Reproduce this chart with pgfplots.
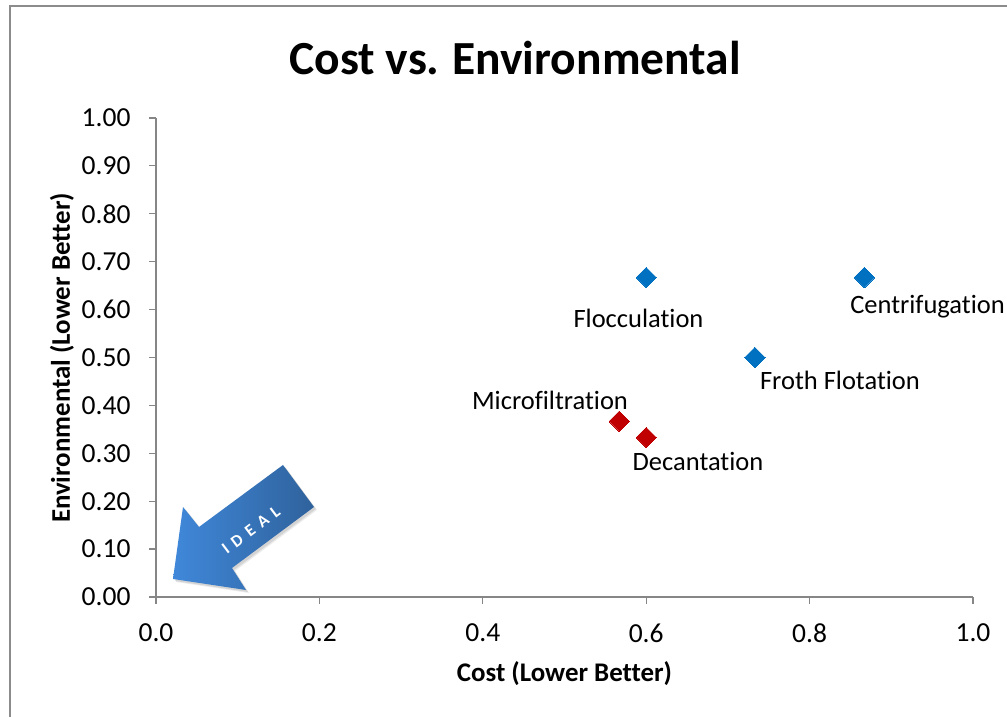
\documentclass[border=0pt]{standalone}
\usepackage{fontspec}
\setmainfont{Carlito}[RawFeature=-liga]
\newfontfamily\idealfont{Carlito}[LetterSpace=40,BoldFont=Carlito Bold,UprightFont=Carlito Bold]
\usepackage{pgfplots}
\pgfplotsset{compat=1.18}
\definecolor{axgray}{HTML}{868686}
\definecolor{frame}{HTML}{8C8C8C}
\definecolor{blueM}{HTML}{0070C0}
\definecolor{redM}{HTML}{C00000}
\definecolor{arrowL}{HTML}{4088DA}
\definecolor{arrowR}{HTML}{2F629C}
\newcommand{\ticksize}{\fontsize{26.5bp}{28bp}\selectfont}
\newcommand{\numsize}{\fontsize{27.5bp}{28bp}\selectfont}
\begin{document}
\begin{tikzpicture}
\path[use as bounding box] (0,0) rectangle (1007bp,717bp);
\draw[frame,line width=1.5bp] (10bp,0) -- (10bp,711bp) -- (1007bp,711bp);
\begin{axis}[
  at={(156bp,120bp)},anchor=south west,
  scale only axis,width=817bp,height=479bp,
  xmin=0,xmax=1,ymin=0,ymax=1,
  axis lines=left,axis line style={axgray,line width=1.4bp,-},
  xtick={0,0.2,0.4,0.6,0.8,1.0},
  ytick={0,0.1,0.2,0.3,0.4,0.5,0.6,0.7,0.8,0.9,1.0},
  tick style={axgray,line width=1.2bp},
  tick align=outside,
  major tick length=7bp,
  xticklabel style={font=\numsize,black,yshift=-16bp,/pgf/number format/.cd,assume math mode=true,fixed,fixed zerofill,precision=1},
  yticklabel style={font=\numsize,black,xshift=-15bp,/pgf/number format/.cd,assume math mode=true,fixed,fixed zerofill,precision=2},
  clip=false,
]
\addplot[only marks,mark=square*,mark size=7.2bp,mark options={rotate=45,fill=blueM,draw=blueM,line width=0pt}] coordinates {(0.867,0.667)(0.6,0.667)(0.733,0.5)};
\addplot[only marks,mark=square*,mark size=7.2bp,mark options={rotate=45,fill=redM,draw=redM,line width=0pt}] coordinates {(0.567,0.367)(0.6,0.333)};
\end{axis}
\begin{scope}[x=1bp,y=-1bp,yshift=717bp]
\node[font=\fontsize{47.5bp}{50bp}\selectfont\bfseries] at (515,58) {Cost vs.\hspace{-1.5bp} Environmental};
\node[font=\fontsize{26.9bp}{28bp}\selectfont\bfseries] at (564.5,674) {Cost (Lower Better)};
\node[font=\fontsize{26.9bp}{28bp}\selectfont\bfseries,rotate=90] at (62,358) {Environmental (Lower Better)};
\foreach \t/\px/\py in {Flocculation/638.5/318,Centrifugation/927.5/307,Froth Flotation/840/380,Microfiltration/550/400,Decantation/698/461}
  \node[font=\ticksize] at (\px,\py) {\t};
\fill[black,opacity=0.08] (176,582) -- (186,510) -- (202,530) -- (286,468) -- (317,510) -- (235,571) -- (249,593) -- cycle;
\fill[black,opacity=0.10] (175,581) -- (185,509) -- (201,529) -- (285,467) -- (316,509) -- (234,570) -- (248,592) -- cycle;
\shade[left color=arrowL,right color=arrowR] (173,579) -- (183,507) -- (199,527) -- (283,465) -- (314,507) -- (232,568) -- (246,590) -- cycle;
\node[white,font=\fontsize{17bp}{18bp}\selectfont\idealfont,rotate=37] at (251,530) {IDEAL};
\end{scope}
\end{tikzpicture}
\end{document}
